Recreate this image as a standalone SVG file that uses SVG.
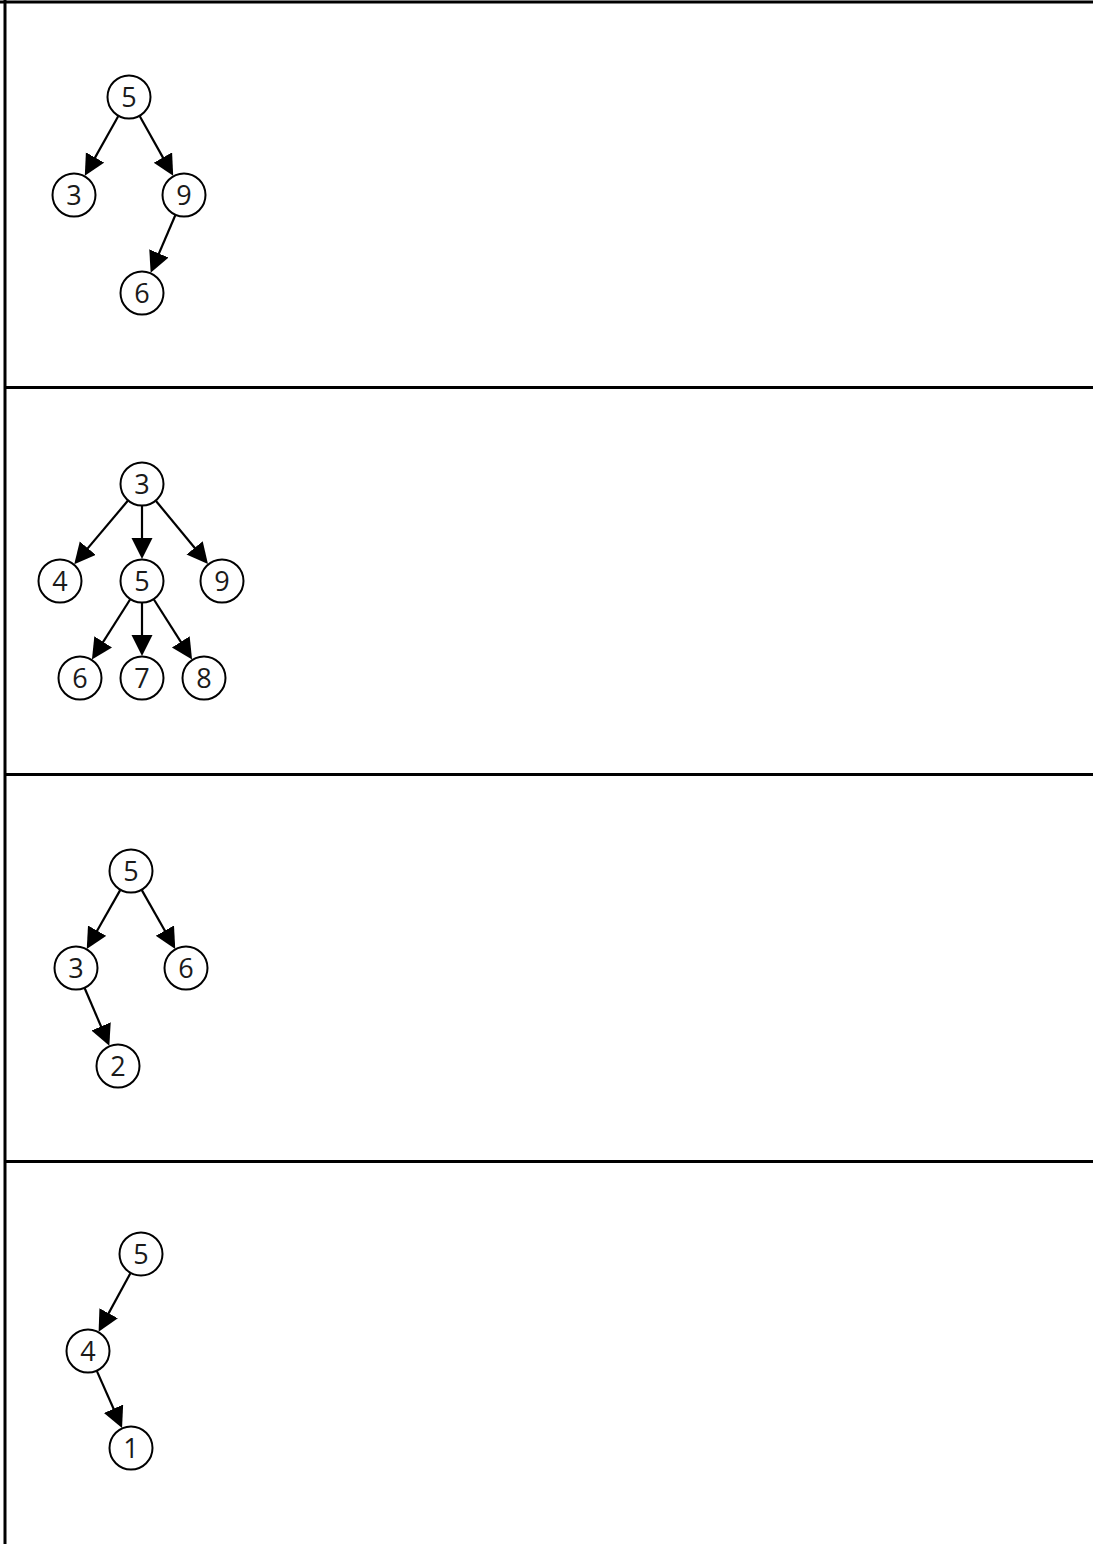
<svg xmlns="http://www.w3.org/2000/svg" width="1093" height="1544" viewBox="0 0 1093 1544">
<style>
.frame{stroke:#000;stroke-width:3;fill:none}
.node circle{fill:#fff;stroke:#000;stroke-width:2}
.node text{font-family:"Open Sans","DejaVu Sans",sans-serif;font-size:27px;fill:#1a1a1a;text-anchor:middle}
.edges line{stroke:#000;stroke-width:2.2;marker-end:url(#arr)}
</style>
<defs>
<marker id="arr" markerUnits="userSpaceOnUse" markerWidth="22" markerHeight="22" refX="11" refY="10.5" orient="auto">
<path d="M0,0 L21,10.5 L0,21 z" fill="#000"/>
</marker>
</defs>
<rect x="0" y="0" width="1093" height="1544" fill="#fff"/>
<g id="frame" class="frame">
<line x1="0" y1="2" x2="1093" y2="2"/>
<line x1="5" y1="0" x2="5" y2="1544"/>
<line x1="5" y1="387.5" x2="1093" y2="387.5"/>
<line x1="5" y1="774.5" x2="1093" y2="774.5"/>
<line x1="5" y1="1161.5" x2="1093" y2="1161.5"/>
</g>
<g id="connectors" class="edges">
<line x1="118.2" y1="116.2" x2="89.7" y2="167.1"/>
<line x1="139.8" y1="116.2" x2="168.3" y2="167.1"/>
<line x1="175.3" y1="215.2" x2="154.6" y2="263.6"/>
<line x1="127.8" y1="500.8" x2="80.7" y2="556.6"/>
<line x1="142" y1="506" x2="142" y2="549"/>
<line x1="156" y1="501" x2="201.6" y2="556.3"/>
<line x1="130.1" y1="599.5" x2="97.3" y2="651.1"/>
<line x1="142" y1="603" x2="142" y2="646"/>
<line x1="153.9" y1="599.5" x2="186.7" y2="651.1"/>
<line x1="120.2" y1="890.1" x2="91.7" y2="940.2"/>
<line x1="141.8" y1="890.1" x2="170.3" y2="940.2"/>
<line x1="84.7" y1="988.2" x2="105.4" y2="1036.6"/>
<line x1="130.4" y1="1273.3" x2="103.4" y2="1322.9"/>
<line x1="96.9" y1="1371.1" x2="118" y2="1418.8"/>
</g>
<g id="p1-5" class="node"><circle cx="129" cy="97" r="21.5"/><text x="129" y="106.5">5</text></g>
<g id="p1-3" class="node"><circle cx="74" cy="195" r="21.5"/><text x="74" y="204.5">3</text></g>
<g id="p1-9" class="node"><circle cx="184" cy="195" r="21.5"/><text x="184" y="204.5">9</text></g>
<g id="p1-6" class="node"><circle cx="142" cy="293" r="21.5"/><text x="142" y="302.5">6</text></g>
<g id="p2-3" class="node"><circle cx="142" cy="484" r="21.5"/><text x="142" y="493.5">3</text></g>
<g id="p2-4" class="node"><circle cx="60" cy="581" r="21.5"/><text x="60" y="590.5">4</text></g>
<g id="p2-5" class="node"><circle cx="142" cy="581" r="21.5"/><text x="142" y="590.5">5</text></g>
<g id="p2-9" class="node"><circle cx="222" cy="581" r="21.5"/><text x="222" y="590.5">9</text></g>
<g id="p2-6" class="node"><circle cx="80" cy="678" r="21.5"/><text x="80" y="687.5">6</text></g>
<g id="p2-7" class="node"><circle cx="142" cy="678" r="21.5"/><text x="142" y="687.5">7</text></g>
<g id="p2-8" class="node"><circle cx="204" cy="678" r="21.5"/><text x="204" y="687.5">8</text></g>
<g id="p3-5" class="node"><circle cx="131" cy="871" r="21.5"/><text x="131" y="880.5">5</text></g>
<g id="p3-3" class="node"><circle cx="76" cy="968" r="21.5"/><text x="76" y="977.5">3</text></g>
<g id="p3-6" class="node"><circle cx="186" cy="968" r="21.5"/><text x="186" y="977.5">6</text></g>
<g id="p3-2" class="node"><circle cx="118" cy="1066" r="21.5"/><text x="118" y="1075.5">2</text></g>
<g id="p4-5" class="node"><circle cx="141" cy="1254" r="21.5"/><text x="141" y="1263.5">5</text></g>
<g id="p4-4" class="node"><circle cx="88" cy="1351" r="21.5"/><text x="88" y="1360.5">4</text></g>
<g id="p4-1" class="node"><circle cx="131" cy="1448" r="21.5"/><text x="131" y="1457.5">1</text></g>
</svg>
